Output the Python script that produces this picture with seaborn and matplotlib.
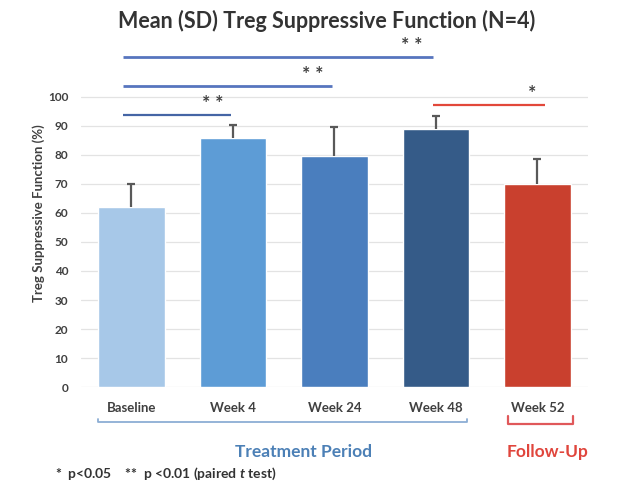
import matplotlib
matplotlib.use("Agg")
import matplotlib.pyplot as plt
import seaborn as sns
import pandas as pd
import numpy as np

categories = ["Baseline", "Week 4", "Week 24", "Week 48", "Week 52"]
means = [62, 86, 79.5, 89, 70]
sds = [8, 4.5, 10, 4.5, 8.5]
bar_colors = ["#A7C8E8", "#5D9CD6", "#4A7EBE", "#355B88", "#C9402E"]
yticks = [0, 10, 20, 30, 40, 50, 60, 70, 80, 90, 100]

# significance comparisons: (start, end, level, label, color)
sig_pairs = [(-0.08, 0.98, 93.8, "* *", "#4565A5"),
             (-0.08, 1.98, 103.8, "* *", "#5775BE"),
             (-0.08, 2.97, 113.9, "* *", "#5775BE"),
             (2.97, 4.07, 97.2, "*", "#E2483A")]
star_x = [0.8, 1.79, 2.76, 3.95]

sns.set_theme(style="white")
plt.rcParams['font.family'] = ['Lato', 'DejaVu Sans']
plt.rcParams['mathtext.fontset'] = 'custom'
plt.rcParams['mathtext.rm'] = 'Lato:bold'
plt.rcParams['mathtext.it'] = 'Lato:italic:bold'

df = pd.DataFrame({"cat": categories, "mean": means})

fig = plt.figure(figsize=(6.24, 4.91), dpi=100)
ax = fig.add_axes([0.1294, 0.2118, 0.8133, 0.7088])

sns.barplot(data=df, x="cat", y="mean", hue="cat", palette=bar_colors,
            width=0.66, legend=False, ax=ax, zorder=2, saturation=1)

x = np.arange(len(categories))
eb = ax.errorbar(x, means, yerr=[np.zeros(len(sds)), sds], fmt="none",
                 ecolor="#595959", elinewidth=1.6, capsize=3, capthick=1.6, zorder=3)
eb[1][0].set_visible(False)

ax.set_xlim(-0.5, 4.5)
ax.set_ylim(0, 120)
ax.set_yticks(yticks)
ax.set_yticklabels([str(t) for t in yticks], fontsize=8.5, fontweight="bold", color="#404040")
ax.yaxis.grid(True, color="#E3E3E3", linewidth=0.9, zorder=0)
ax.set_axisbelow(True)
for s in ax.spines.values():
    s.set_visible(False)
ax.tick_params(axis="y", length=0, pad=9)
ax.tick_params(axis="x", length=0, pad=11)
ax.set_xticks(x)
ax.set_xticklabels(categories, fontsize=9.5, fontweight="bold", color="#404040")
ax.set_xlabel("")
ax.set_ylabel("Treg Suppressive Function (%)", fontsize=9.5, fontweight="bold",
              color="#404040", labelpad=2)

for (xs, xe, lvl, lab, col), sx in zip(sig_pairs, star_x):
    ax.plot([xs, xe], [lvl, lvl], color=col, lw=2 if lvl > 100 else 1.6,
            solid_capstyle="butt", clip_on=False, zorder=4)
    ax.text(sx, lvl + 1.0, lab, ha="center", va="bottom", fontsize=14,
            fontweight="bold", color="#404040", clip_on=False)

# period brackets below the axis
ax.plot([-0.33, -0.33, 3.31, 3.31], [-11.2, -12.1, -12.1, -11.2], color="#8CAED4",
        lw=1.3, clip_on=False)
ax.plot([3.71, 3.71, 4.35, 4.35], [-10.0, -12.8, -12.8, -10.0], color="#E0585A",
        lw=1.6, clip_on=False)
ax.text(1.69, -22.5, "Treatment Period", ha="center", va="center", fontsize=12.5,
        fontweight="bold", color="#4C80B6", clip_on=False)
ax.text(4.1, -22.5, "Follow-Up", ha="center", va="center", fontsize=12.5,
        fontweight="bold", color="#E0453C", clip_on=False)

fig.text(0.523, 0.958, "Mean (SD) Treg Suppressive Function (N=4)", ha="center",
         va="center", fontsize=15.5, fontweight="bold", color="#333333")
fig.text(0.088, 0.034, r"*  p<0.05    **  p <0.01 (paired $\mathit{t}$ test)",
         ha="left", va="center", fontsize=10, fontweight="bold", color="#333333")

fig.savefig("out.png", dpi=100)
